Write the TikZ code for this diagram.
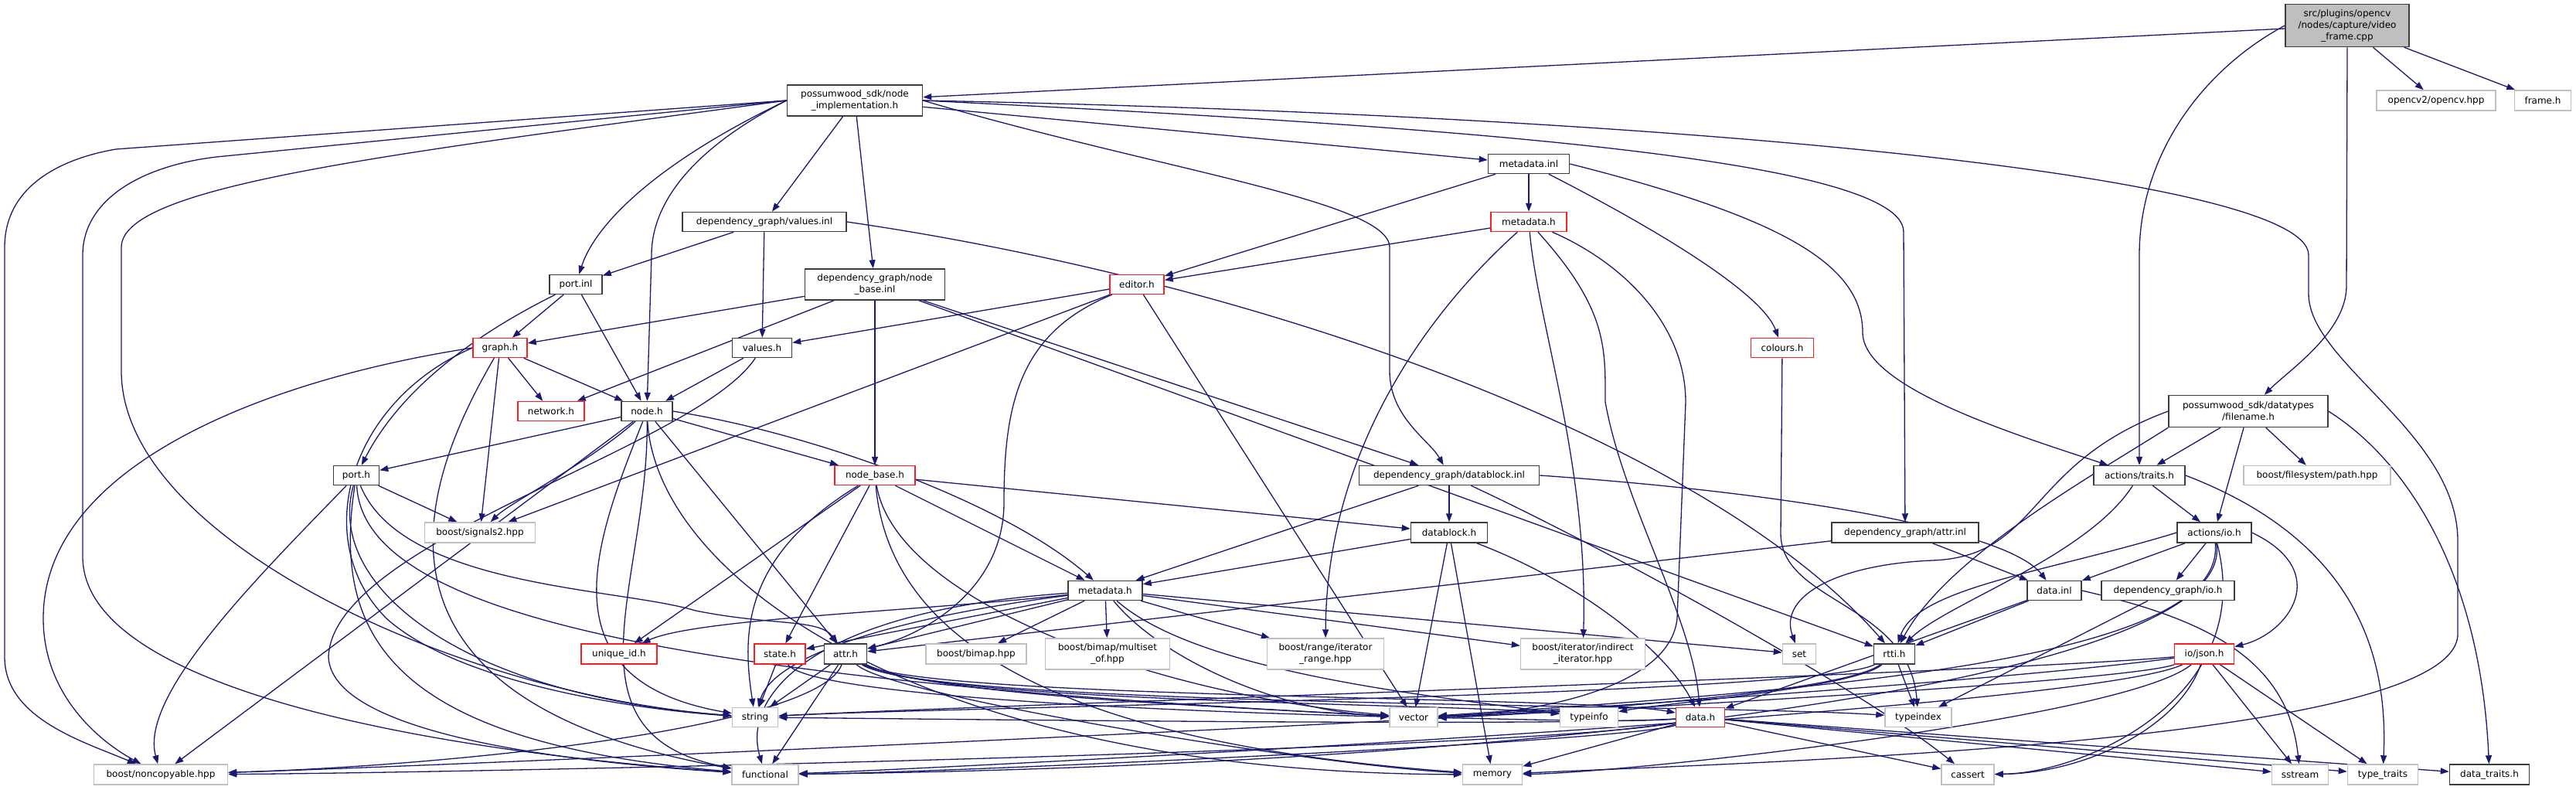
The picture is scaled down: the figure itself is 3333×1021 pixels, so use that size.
\documentclass[tikz,border=0pt]{standalone}
\usepackage{fontspec}
\setmainfont{DejaVu Sans}
\usetikzlibrary{arrows.meta,backgrounds}
\definecolor{edgec}{RGB}{25,25,112}
\definecolor{gbord}{RGB}{191,191,191}
\definecolor{rbord}{RGB}{255,30,30}
\definecolor{kbord}{RGB}{60,60,60}
\tikzset{
 box/.style={draw=kbord, line width=1.5pt, fill=white, inner sep=0pt, align=center, font=\fontsize{12}{15}\selectfont},
 rbox/.style={box, draw=rbord},
 gbox/.style={box, draw=gbord},
 cur/.style={box, fill=gray!50},
 e/.style={draw=edgec, line width=1.3pt, -{Triangle[length=11pt,width=8pt]}},
}
\begin{document}
\begin{tikzpicture}[x=1pt,y=-1pt]
\useasboundingbox (0,0) rectangle (3333,1021);
% nodes
\node[cur, minimum width=160pt, minimum height=55pt] (vf) at (3037,33) {src/plugins/opencv\\/nodes/capture/video\\\_frame.cpp};
\node[box, minimum width=175pt, minimum height=40pt] (ni) at (1106,130) {possumwood\_sdk/node\\\_implementation.h};
\node[gbox, minimum width=154pt, minimum height=26pt] (opencv) at (3152,130) {opencv2/opencv.hpp};
\node[gbox, minimum width=73pt, minimum height=26pt] (frame) at (3290,130) {frame.h};
\node[box, minimum width=105pt, minimum height=25pt] (minl) at (1978,212) {metadata.inl};
\node[box, minimum width=212pt, minimum height=25pt] (vinl) at (989,287) {dependency\_graph/values.inl};
\node[rbox, minimum width=98pt, minimum height=25pt] (mdr) at (1978,287) {metadata.h};
\node[box, minimum width=68pt, minimum height=25pt] (pinl) at (745,368) {port.inl};
\node[box, minimum width=181pt, minimum height=40pt] (nbinl) at (1132,368) {dependency\_graph/node\\\_base.inl};
\node[rbox, minimum width=70pt, minimum height=25pt] (ed) at (1471,368) {editor.h};
\node[rbox, minimum width=70pt, minimum height=25pt] (gr) at (647,450) {graph.h};
\node[box, minimum width=77pt, minimum height=25pt] (vh) at (986,450) {values.h};
\node[rbox, minimum width=81pt, minimum height=25pt] (col) at (2306,450) {colours.h};
\node[box, minimum width=206pt, minimum height=41pt] (fn) at (2909,532) {possumwood\_sdk/datatypes\\/filename.h};
\node[rbox, minimum width=86pt, minimum height=25pt] (net) at (713,532) {network.h};
\node[box, minimum width=66pt, minimum height=25pt] (nh) at (837,532) {node.h};
\node[box, minimum width=59pt, minimum height=25pt] (ph) at (461,615) {port.h};
\node[rbox, minimum width=104pt, minimum height=25pt] (nbh) at (1132,615) {node\_base.h};
\node[box, minimum width=233pt, minimum height=25pt] (dbinl) at (1875,615) {dependency\_graph/datablock.inl};
\node[box, minimum width=118pt, minimum height=25pt] (atr) at (2768,615) {actions/traits.h};
\node[gbox, minimum width=190pt, minimum height=25pt] (bfs) at (2998,615) {boost/filesystem/path.hpp};
\node[gbox, minimum width=143pt, minimum height=26pt] (sig) at (621,689) {boost/signals2.hpp};
\node[box, minimum width=99pt, minimum height=26pt] (dbh) at (1875,689) {datablock.h};
\node[box, minimum width=190pt, minimum height=26pt] (ainl) at (2465,689) {dependency\_graph/attr.inl};
\node[box, minimum width=96pt, minimum height=26pt] (aio) at (2865,689) {actions/io.h};
\node[box, minimum width=96pt, minimum height=25pt] (md) at (1430,764) {metadata.h};
\node[box, minimum width=70pt, minimum height=25pt] (dinl) at (2658,764) {data.inl};
\node[box, minimum width=172pt, minimum height=25pt] (dgio) at (2805,764) {dependency\_graph/io.h};
\node[rbox, minimum width=98pt, minimum height=26pt] (uid) at (801,846) {unique\_id.h};
\node[rbox, minimum width=66pt, minimum height=26pt] (st) at (1009,846) {state.h};
\node[box, minimum width=55pt, minimum height=26pt] (at) at (1094,846) {attr.h};
\node[gbox, minimum width=130pt, minimum height=26pt] (bimap) at (1263,846) {boost/bimap.hpp};
\node[gbox, minimum width=161pt, minimum height=40pt] (multi) at (1433,846) {boost/bimap/multiset\\\_of.hpp};
\node[gbox, minimum width=151pt, minimum height=40pt] (rng) at (1715,846) {boost/range/iterator\\\_range.hpp};
\node[gbox, minimum width=161pt, minimum height=40pt] (ind) at (2048,846) {boost/iterator/indirect\\\_iterator.hpp};
\node[gbox, minimum width=43pt, minimum height=26pt] (set) at (2328,846) {set};
\node[box, minimum width=53pt, minimum height=26pt] (rtti) at (2451,846) {rtti.h};
\node[rbox, minimum width=77pt, minimum height=26pt] (json) at (2852,846) {io/json.h};
\node[gbox, minimum width=59pt, minimum height=25pt] (str) at (977,928) {string};
\node[gbox, minimum width=62pt, minimum height=25pt] (vec) at (1829,928) {vector};
\node[gbox, minimum width=75pt, minimum height=25pt] (ti) at (2056,928) {typeinfo};
\node[rbox, minimum width=63pt, minimum height=25pt] (dh) at (2200,928) {data.h};
\node[gbox, minimum width=86pt, minimum height=25pt] (tidx) at (2482,928) {typeindex};
\node[gbox, minimum width=173pt, minimum height=26pt] (nc) at (208,1002) {boost/noncopyable.hpp};
\node[gbox, minimum width=86pt, minimum height=26pt] (fun) at (990,1002) {functional};
\node[gbox, minimum width=77pt, minimum height=26pt] (mem) at (1931,1002) {memory};
\node[gbox, minimum width=68pt, minimum height=26pt] (cas) at (2546,1002) {cassert};
\node[gbox, minimum width=73pt, minimum height=26pt] (ss) at (2976,1002) {sstream};
\node[gbox, minimum width=91pt, minimum height=26pt] (tt) at (3083,1002) {type\_traits};
\node[box, minimum width=103pt, minimum height=26pt] (dt) at (3221,1002) {data\_traits.h};
% waypoints
\coordinate (wA1) at (150,193);
\coordinate (wA2) at (6,320);
\coordinate (wA3) at (6,850);
\coordinate (wB1) at (280,203);
\coordinate (wB2) at (107,330);
\coordinate (wB3) at (107,720);
\coordinate (wC1) at (157,320);
\coordinate (wC2) at (157,480);
\coordinate (wvfa) at (2768,330);
\coordinate (wvff) at (3036,370);
\coordinate (wnin) at (843,330);
\coordinate (wnd1) at (1798,320);
\coordinate (wnd2) at (1798,480);
\coordinate (wnai) at (2463,300);
\coordinate (wm1) at (2987,330);
\coordinate (wm2) at (2987,380);
\coordinate (wm3) at (3180,700);
\coordinate (wm4) at (3180,820);
\coordinate (wma) at (2410,430);
\coordinate (wmv1) at (2181,520);
\coordinate (wmv2) at (2170,800);
\coordinate (wmd) at (2077,520);
\coordinate (wea) at (1299,650);
\coordinate (wgn) at (56,800);
\coordinate (wgs) at (500,800);
\coordinate (wvf) at (425,850);
\coordinate (wct) at (2304,690);
\coordinate (wfs) at (2500,725);
\coordinate (wpa) at (900,790);
% edges
\begin{scope}[on background layer]
% vf
\draw[e] (vf) -- (ni);
\draw[e] (vf) -- (opencv);
\draw[e] (vf) -- (frame);
\draw[e] (vf.west) .. controls (2850,90) and (2768,200) .. (wvfa) -- (atr);
\draw[e] (vf.south) -- (wvff) .. controls (3036,430) and (2960,480) .. (fn);
% ni
\draw[e] (ni) -- (minl);
\draw[e] (ni) -- (vinl);
\draw[e] (ni.west) .. controls (850,210) and (770,290) .. (pinl);
\draw[e] (ni.west) .. controls (900,190) and (843,260) .. (wnin) -- (nh);
\draw[e] (ni) -- (nbinl);
\draw[e] (ni.east) .. controls (1500,220) and (1798,260) .. (wnd1) -- (wnd2) .. controls (1798,540) and (1850,570) .. (dbinl);
\draw[e] (ni.east) .. controls (1800,160) and (2463,200) .. (wnai) -- (ainl);
\draw[e] (ni.east) .. controls (2200,150) and (2987,230) .. (wm1) -- (wm2) .. controls (2987,470) and (3180,560) .. (wm3) -- (wm4) .. controls (3180,960) and (2300,985) .. (mem);
\draw[e] (ni.west) -- (wA1) .. controls (80,205) and (6,240) .. (wA2) -- (wA3) .. controls (6,930) and (110,960) .. (nc);
\draw[e] (ni.west) -- (wB1) .. controls (180,215) and (107,260) .. (wB2) -- (wB3) .. controls (107,900) and (600,975) .. (fun);
\draw[e] (ni.west) .. controls (500,200) and (157,240) .. (wC1) -- (wC2) .. controls (157,700) and (600,900) .. (str);
% minl
\draw[e] (minl) -- (mdr);
\draw[e] (minl) -- (ed);
\draw[e] (minl) .. controls (2150,300) and (2280,380) .. (col);
\draw[e] (minl.east) .. controls (2300,280) and (2410,340) .. (wma) .. controls (2410,500) and (2600,560) .. (atr);
% vinl
\draw[e] (vinl) -- (pinl);
\draw[e] (vinl) -- (vh);
\draw[e] (vinl.east) .. controls (1600,360) and (2200,560) .. (rtti);
% mdr
\draw[e] (mdr) -- (ed);
\draw[e] (mdr) .. controls (1830,420) and (1716,600) .. (rng);
\draw[e] (mdr) .. controls (1990,420) and (2055,600) .. (ind);
\draw[e] (mdr) .. controls (2100,340) and (2181,420) .. (wmv1) -- (wmv2) .. controls (2160,900) and (1950,925) .. (vec);
\draw[e] (mdr) .. controls (2080,400) and (2077,450) .. (wmd) .. controls (2100,650) and (2190,800) .. (dh);
% pinl
\draw[e] (pinl) -- (gr);
\draw[e] (pinl) -- (nh);
\draw[e] (pinl) .. controls (620,430) and (520,500) .. (ph);
% nbinl
\draw[e] (nbinl) -- (gr);
\draw[e] (nbinl) -- (net);
\draw[e] (nbinl) -- (nbh);
\draw[e] (nbinl) -- (dbinl);
\draw[e] (nbinl) -- (rtti);
% ed
\draw[e] (ed) -- (vh);
\draw[e] (ed) -- (sig);
\draw[e] (ed) .. controls (1320,430) and (1299,520) .. (wea) .. controls (1299,760) and (1200,820) .. (at);
\draw[e] (ed) -- (vec);
% gr
\draw[e] (gr) -- (net);
\draw[e] (gr) -- (nh);
\draw[e] (gr) -- (sig);
\draw[e] (gr.west) .. controls (350,490) and (56,600) .. (wgn) .. controls (56,900) and (130,960) .. (nc);
\draw[e] (gr.west) .. controls (450,520) and (400,700) .. (wgs) .. controls (600,890) and (850,920) .. (str);
\draw[e] (gr) .. controls (560,600) and (420,900) .. (fun);
% vh
\draw[e] (vh) -- (nh);
\draw[e] (vh) .. controls (900,580) and (430,700) .. (wvf) .. controls (430,960) and (800,990) .. (fun);
% col
\draw[e] (col) -- (wct) .. controls (2304,780) and (2470,780) .. (tidx);
% fn
\draw[e] (fn) -- (atr);
\draw[e] (fn) -- (aio);
\draw[e] (fn) -- (bfs);
\draw[e] (fn.east) .. controls (3120,600) and (3210,750) .. (dt);
\draw[e] (fn.west) .. controls (2620,600) and (2640,720) .. (wfs) .. controls (2380,730) and (2300,770) .. (set);
\draw[e] (fn.south west) .. controls (2700,620) and (2520,720) .. (rtti);
% nh
\draw[e] (nh) -- (ph);
\draw[e] (nh) .. controls (760,600) and (660,650) .. (sig);
\draw[e] (nh) -- (nbh);
\draw[e] (nh) -- (at);
\draw[e] (nh.east) .. controls (1050,560) and (1300,650) .. (md);
\draw[e] (nh) -- (nc);
\draw[e] (nh) .. controls (770,700) and (700,880) .. (str);
\draw[e] (nh) .. controls (840,750) and (720,950) .. (fun);
\draw[e] (nh) .. controls (850,750) and (1200,1000) .. (mem);
% ph
\draw[e] (ph) -- (sig);
\draw[e] (ph) .. controls (330,750) and (180,900) .. (nc);
\draw[e] (ph) .. controls (520,760) and (800,760) .. (wpa) .. controls (1000,810) and (1060,800) .. (at);
\draw[e] (ph) .. controls (420,760) and (600,900) .. (str);
\draw[e] (ph) .. controls (430,820) and (500,960) .. (fun);
\draw[e] (ph) .. controls (470,800) and (900,880) .. (vec);
% nbh
\draw[e] (nbh) -- (dbh);
\draw[e] (nbh) -- (md);
\draw[e] (nbh) -- (uid);
\draw[e] (nbh) -- (st);
\draw[e] (nbh) .. controls (960,720) and (960,820) .. (str);
\draw[e] (nbh) .. controls (1150,820) and (1350,960) .. (mem);
\draw[e] (nbh) .. controls (1160,780) and (1500,900) .. (vec);
% dbinl
\draw[e] (dbinl) -- (dbh);
\draw[e] (dbinl) -- (md);
\draw[e] (dbinl.east) .. controls (2350,640) and (2600,690) .. (dinl);
\draw[e] (dbinl) .. controls (2100,720) and (2420,900) .. (cas);
% atr
\draw[e] (atr) -- (aio);
\draw[e] (atr) .. controls (2700,720) and (2520,780) .. (rtti);
\draw[e] (atr.east) .. controls (3050,700) and (3090,850) .. (tt);
% dbh
\draw[e] (dbh) -- (md);
\draw[e] (dbh) -- (vec);
\draw[e] (dbh) -- (mem);
\draw[e] (dbh) .. controls (2060,760) and (2160,850) .. (dh);
% ainl
\draw[e] (ainl) -- (at);
\draw[e] (ainl) -- (dinl);
% aio
\draw[e] (aio) -- (dinl);
\draw[e] (aio) -- (dgio);
\draw[e] (aio.east) .. controls (3020,740) and (2960,820) .. (json);
\draw[e] (aio.west) .. controls (2650,740) and (2480,760) .. (rtti);
\draw[e] (aio) .. controls (2880,850) and (2400,890) .. (vec);
\draw[e] (aio) .. controls (2920,900) and (2700,1000) .. (cas);
\draw[e] (aio) .. controls (2900,880) and (2000,990) .. (fun);
% md
\draw[e] (md) .. controls (1200,790) and (900,800) .. (uid);
\draw[e] (md) -- (st);
\draw[e] (md) -- (at);
\draw[e] (md) -- (bimap);
\draw[e] (md) -- (multi);
\draw[e] (md) -- (rng);
\draw[e] (md) -- (ind);
\draw[e] (md) -- (set);
\draw[e] (md) .. controls (1150,800) and (1000,850) .. (str);
\draw[e] (md) .. controls (1500,850) and (1650,920) .. (vec);
\draw[e] (md) .. controls (1050,790) and (960,900) .. (fun);
\draw[e] (md) .. controls (1550,870) and (1850,900) .. (ti);
% dinl
\draw[e] (dinl) -- (rtti);
\draw[e] (dinl) -- (dh);
\draw[e] (dinl.east) .. controls (2850,800) and (2960,850) .. (ss);
% dgio
\draw[e] (dgio) -- (tidx);
% st
\draw[e] (st) -- (str);
\draw[e] (st) .. controls (1050,900) and (1500,920) .. (vec);
% at
\draw[e] (at) -- (str);
\draw[e] (at) -- (fun);
\draw[e] (at) .. controls (1060,940) and (600,990) .. (nc);
\draw[e] (at) .. controls (1200,900) and (1600,915) .. (vec);
\draw[e] (at) .. controls (1200,910) and (1900,910) .. (ti);
\draw[e] (at) .. controls (1200,905) and (2050,900) .. (dh);
\draw[e] (at) .. controls (1150,900) and (1700,990) .. (mem);
\draw[e] (at) .. controls (1200,915) and (2200,910) .. (tidx);
% rtti
\draw[e] (rtti) .. controls (2350,900) and (1200,915) .. (str);
\draw[e] (rtti) .. controls (2380,900) and (1950,925) .. (vec);
\draw[e] (rtti) -- (tidx);
\draw[e] (rtti) .. controls (2400,890) and (2150,910) .. (ti);
% json
\draw[e] (json) .. controls (2600,870) and (1200,915) .. (str);
\draw[e] (json) .. controls (2600,880) and (2000,920) .. (vec);
\draw[e] (json) .. controls (2700,900) and (600,990) .. (nc);
\draw[e] (json) .. controls (2700,920) and (1200,995) .. (fun);
\draw[e] (json) .. controls (2750,930) and (2100,1000) .. (mem);
\draw[e] (json) .. controls (2820,940) and (2700,1000) .. (cas);
\draw[e] (json) -- (ss);
\draw[e] (json) -- (tt);
% dh
\draw[e] (dh) .. controls (2100,935) and (1950,930) .. (vec);
\draw[e] (dh) .. controls (2000,940) and (1200,930) .. (str);
\draw[e] (dh) .. controls (2100,960) and (1200,1000) .. (fun);
\draw[e] (dh) -- (mem);
\draw[e] (dh) .. controls (2000,970) and (600,1000) .. (nc);
\draw[e] (dh) -- (cas);
\draw[e] (dh) -- (ss);
\draw[e] (dh) -- (tt);
\draw[e] (dh) -- (dt);
\end{scope}
\end{tikzpicture}
\end{document}
